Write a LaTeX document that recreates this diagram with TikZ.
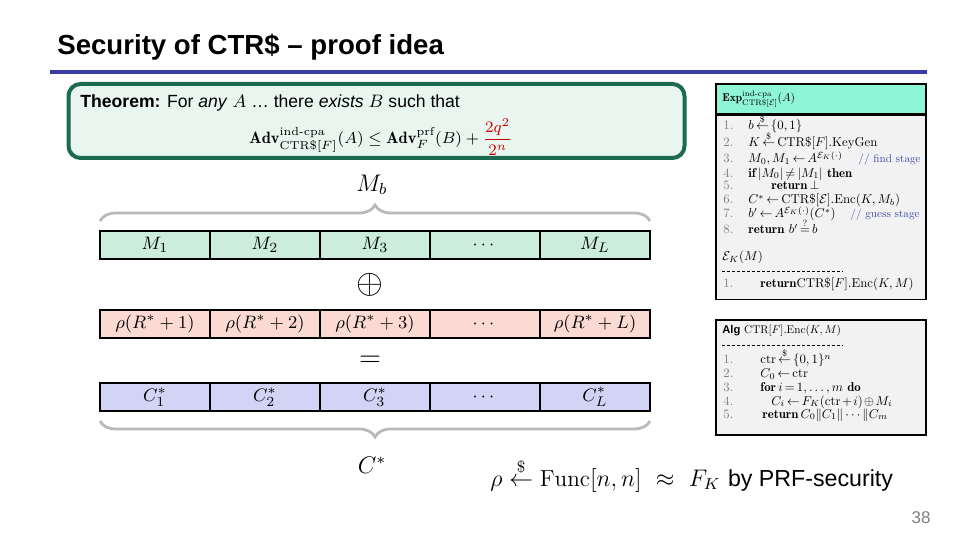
\documentclass[tikz,border=0pt]{standalone}
\usepackage{amsmath,amssymb}
\usepackage{fontspec}
\newfontfamily\arialfont{Liberation Sans}
\usepackage{tikz}
\usetikzlibrary{positioning,decorations.pathreplacing}
\definecolor{titleblue}{HTML}{3A3AA6}
\definecolor{thmgreen}{HTML}{1D6A52}
\definecolor{thmfill}{HTML}{E8F6EF}
\definecolor{mgreen}{HTML}{CDEDDC}
\definecolor{rpink}{HTML}{FBDAD4}
\definecolor{clav}{HTML}{D1D4F4}
\definecolor{aqua}{HTML}{8FF5D7}
\definecolor{codegray}{HTML}{F2F2F2}
\definecolor{cmtblue}{HTML}{3B4BB0}
% small code lines: set at 10pt, then shrink (avoids the wide optical sizes)
\newcommand{\codeln}[1]{\scalebox{0.64}{\fontsize{10}{12}\selectfont\thickmuskip=3mu\medmuskip=2mu #1}}
\newcommand{\cmtln}[1]{\scalebox{0.56}{\fontsize{10}{12}\selectfont #1}}
\newcommand{\bigctr}{\mathrm{CTR\$}}

\begin{document}
\begin{tikzpicture}[x=0.5pt,y=-0.5pt,
  cell/.style={draw,line width=0.8pt,minimum width=55pt,minimum height=14pt,
    inner sep=0pt,outer sep=0pt,font=\fontsize{9.5}{11}\selectfont},
  mcell/.style={cell,fill=mgreen},
  rcell/.style={cell,fill=rpink},
  ccell/.style={cell,fill=clav},
  brace/.style={draw=gray!55,line width=1.4pt,decorate,
    decoration={brace,amplitude=8pt}},
  codebox/.style={draw,line width=0.8pt,fill=codegray,minimum width=105pt,inner sep=0pt},
  code/.style={anchor=base west,inner sep=0pt},
  num/.style={code,text=gray}]
\useasboundingbox (0,0) rectangle (960,540);
% title
\node[anchor=base west,inner sep=0pt,font=\arialfont\bfseries\fontsize{13.8}{16}\selectfont] (title) at (57,55) {Security of CTR\$ – proof idea};
\draw[titleblue,line width=2pt] (50,72) -- (927,72);
% theorem
\node[draw=thmgreen,line width=2pt,fill=thmfill,rounded corners=6pt,minimum width=308pt,minimum height=37pt] (thm) at (376.5,121) {};
\node[anchor=base west,inner sep=0pt,font=\arialfont\fontsize{8.8}{10}\selectfont] (thmhead) at (80,108)
  {\textbf{Theorem:} For \textit{any} $A$ \ldots\ there \textit{exists} $B$ such that};
\node[font=\fontsize{8.2}{10}\selectfont] (thmeq) at (381,137)
  {$\mathbf{Adv}^{\text{ind-cpa}}_{\bigctr[F]}(A) \le \mathbf{Adv}^{\text{prf}}_{F}(B) + \textcolor{red!80!black}{\dfrac{2q^2}{2^n}}$};
% message blocks
\node[mcell] (m1) at (155,245) {$M_1$};
\node[mcell,right=0pt of m1] (m2) {$M_2$};
\node[mcell,right=0pt of m2] (m3) {$M_3$};
\node[mcell,right=0pt of m3] (m4) {$\cdots$};
\node[mcell,right=0pt of m4] (m5) {$M_L$};
\node[rcell,below=25.5pt of m1] (r1) {$\rho(R^*+1)$};
\node[rcell,right=0pt of r1] (r2) {$\rho(R^*+2)$};
\node[rcell,right=0pt of r2] (r3) {$\rho(R^*+3)$};
\node[rcell,right=0pt of r3] (r4) {$\cdots$};
\node[rcell,right=0pt of r4] (r5) {$\rho(R^*+L)$};
\node[ccell,below=22.5pt of r1] (c1) {$C_1^*$};
\node[ccell,right=0pt of c1] (c2) {$C_2^*$};
\node[ccell,right=0pt of c2] (c3) {$C_3^*$};
\node[ccell,right=0pt of c3] (c4) {$\cdots$};
\node[ccell,right=0pt of c4] (c5) {$C_L^*$};
\node[font=\fontsize{16}{16}\selectfont] (xor) at (370,285) {$\oplus$};
\node[font=\fontsize{14}{14}\selectfont] (eq) at (370,361) {$=$};
% braces
\draw[brace] ([yshift=5pt]m1.north west) -- ([yshift=5pt]m5.north east);
\draw[brace] ([yshift=-5pt]c5.south east) -- ([yshift=-5pt]c1.south west);
\node[font=\fontsize{11.5}{13}\selectfont] (mb) at (372,185) {$M_b$};
\node[font=\fontsize{11.5}{13}\selectfont] (cstar) at (372,465) {$C^*$};
% bottom line
\node[anchor=base west,inner sep=0pt,font=\fontsize{11.6}{14}\selectfont] (prf) at (490,486)
  {$\rho \overset{\$}{\leftarrow} \mathrm{Func}[n,n]\ \approx\ F_K$ {\arialfont by PRF-security}};
% experiment box
\node[codebox,fill=aqua,minimum height=15pt] (exphead) at (821,99) {};
\node[codebox,minimum height=92pt,below=0pt of exphead] (expbody) {};
\node[code] (exptitle) at (722,102) {\scalebox{0.57}{\fontsize{10}{12}\selectfont$\mathbf{Exp}^{\text{ind-cpa}}_{\bigctr[\mathcal{E}]}(A)$}};
\node[num] (n1) at (723,130) {\codeln{1.}};
\node[code] (e1) at (748,130) {\codeln{$b \overset{\$}{\leftarrow} \{0,1\}$}};
\node[num] (n2) at (723,147) {\codeln{2.}};
\node[code] (e2) at (748,147) {\codeln{$K \overset{\$}{\leftarrow} \bigctr[F].\mathrm{KeyGen}$}};
\node[num] (n3) at (723,163) {\codeln{3.}};
\node[code] (e3) at (748,163) {\codeln{$M_0,M_1 \leftarrow A^{\mathcal{E}_K(\cdot)}$}};
\node[code,text=cmtblue] (cmt3) at (858,163) {\cmtln{// find stage}};
\node[num] (n4) at (723,177) {\codeln{4.}};
\node[code] (e4) at (748,177) {\codeln{$\mathbf{if}\,|M_0| \neq |M_1|\ \mathbf{then}$}};
\node[num] (n5) at (723,190) {\codeln{5.}};
\node[code] (e5) at (771,190) {\codeln{$\mathbf{return}\,\bot$}};
\node[num] (n6) at (723,204) {\codeln{6.}};
\node[code] (e6) at (748,204) {\codeln{$C^* \leftarrow \bigctr[\mathcal{E}].\mathrm{Enc}(K,M_b)$}};
\node[num] (n7) at (723,218) {\codeln{7.}};
\node[code] (e7) at (748,218) {\codeln{$b' \leftarrow A^{\mathcal{E}_K(\cdot)}(C^*)$}};
\node[code,text=cmtblue] (cmt7) at (850,218) {\cmtln{// guess stage}};
\node[num] (n8) at (723,234) {\codeln{8.}};
\node[code] (e8) at (748,234) {\codeln{$\mathbf{return}\ b' \overset{?}{=} b$}};
\node[code] (oracle) at (722,261) {\codeln{$\mathcal{E}_K(M)$}};
\draw[dashed,dash pattern=on 1.5pt off 1pt,line width=0.3pt] (722,271) -- (843,271);
\node[num] (o1) at (723,288) {\codeln{1.}};
\node[code] (o1c) at (760,288) {\codeln{$\mathbf{return}\bigctr[F].\mathrm{Enc}(K,M)$}};
% algorithm box
\node[codebox,minimum height=57.5pt] (alg) at (821,377.5) {};
\node[code] (algtitle) at (722,334) {\scalebox{0.56}{\fontsize{10}{12}\selectfont{\arialfont\bfseries Alg} $\mathrm{CTR}[F].\mathrm{Enc}(K,M)$}};
\draw[dashed,dash pattern=on 1.5pt off 1pt,line width=0.3pt] (722,345) -- (843,345);
\node[num] (a1n) at (723,364) {\codeln{1.}};
\node[code] (a1) at (760,364) {\codeln{$\mathrm{ctr} \overset{\$}{\leftarrow} \{0,1\}^n$}};
\node[num] (a2n) at (723,378) {\codeln{2.}};
\node[code] (a2) at (760,378) {\codeln{$C_0 \leftarrow \mathrm{ctr}$}};
\node[num] (a3n) at (723,392) {\codeln{3.}};
\node[code] (a3) at (760,392) {\codeln{$\mathbf{for}\,i=1,\ldots,m\ \mathbf{do}$}};
\node[num] (a4n) at (723,405) {\codeln{4.}};
\node[code] (a4) at (771,405) {\codeln{$C_i \leftarrow F_K(\mathrm{ctr}+i) \oplus M_i$}};
\node[num] (a5n) at (723,418) {\codeln{5.}};
\node[code] (a5) at (762,418) {\codeln{$\mathbf{return}\,C_0 \| C_1 \| \cdots \| C_m$}};
% page number
\node[anchor=base east,inner sep=0pt,text=gray,font=\arialfont\fontsize{8.5}{10}\selectfont] (page) at (931,523) {38};
\end{tikzpicture}
\end{document}
